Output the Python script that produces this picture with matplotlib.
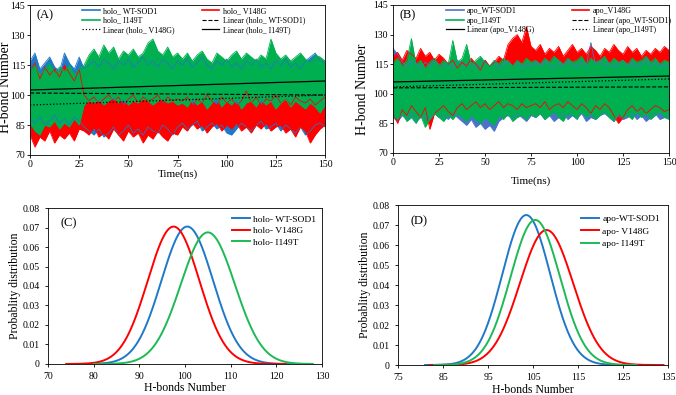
import numpy as np
import matplotlib.pyplot as plt
from matplotlib.legend import Legend

plt.rcParams['font.family'] = ['Liberation Serif', 'DejaVu Serif']

# time axis for the read-off envelopes (ns)
time = np.arange(0, 150.01, 2.5)

# panel A: holo, upper / lower envelope of each trace (H-bond number)
holo_wt_hi = [117, 121, 113, 116, 119, 114, 112, 121, 116, 113, 119,
              113, 115, 117, 114, 118, 116, 113, 117, 115, 118, 114, 116, 119, 115, 117, 114, 118, 116, 113, 117,
              115, 118, 114, 116, 119, 115, 113, 117, 115, 118, 114, 116, 113, 117, 115, 118, 114, 116, 113, 117,
              115, 118, 114, 116, 113, 117, 119, 121, 117, 116]
holo_wt_lo = [88, 86, 89, 85, 87, 90, 86, 88, 85, 89, 87,
              84, 82, 80, 83, 79, 81, 84, 80, 82, 85, 81, 83, 80, 84, 82, 81, 85, 83, 80, 84,
              86, 83, 85, 87, 82, 84, 86, 83, 85, 81, 80, 83, 86, 84, 82, 85, 87, 83, 84, 86,
              82, 85, 83, 81, 84, 80, 82, 85, 86, 84]
holo_v148g_hi = [112, 116, 108, 114, 110, 113, 109, 115, 111, 107, 113,
                 100, 97, 99, 96, 98, 100, 97, 99, 95, 98, 100, 96, 99, 97, 98, 100, 96, 99, 97, 98,
                 97, 99, 95, 98, 96, 100, 97, 95, 99, 96, 98, 95, 97, 102, 96, 99, 95, 98, 97, 100,
                 96, 98, 95, 99, 97, 96, 98, 95, 97, 99]
holo_v148g_lo = [80, 74, 79, 77, 82, 76, 80, 78, 81, 77, 83,
                 82, 80, 84, 79, 81, 78, 83, 80, 77, 82, 79, 81, 76, 80, 78, 82, 79, 77, 81, 80,
                 84, 82, 86, 83, 85, 81, 84, 86, 82, 85, 83, 86, 82, 84, 81, 85, 83, 86, 82, 84,
                 85, 81, 83, 79, 84, 82, 76, 80, 83, 85]
holo_i149t_hi = [112, 115, 110, 113, 116, 111, 114, 112, 115, 110, 113,
                 115, 120, 123, 119, 125, 121, 124, 118, 122, 120, 123, 119, 121, 126, 128, 122, 120, 124, 119, 121,
                 118, 121, 117, 120, 122, 118, 116, 121, 119, 117, 120, 122, 118, 121, 119, 117, 120, 118, 128, 121,
                 118, 120, 117, 119, 121, 118, 116, 120, 119, 117]
holo_i149t_lo = [86, 82, 80, 85, 84, 87, 83, 86, 84, 88, 85,
                 95, 97, 96, 98, 95, 97, 99, 96, 98, 95, 97, 96, 98, 97, 95, 97, 98, 96, 97, 95,
                 96, 94, 98, 95, 97, 93, 96, 99, 94, 97, 95, 98, 93, 96, 97, 94, 98, 95, 97, 93,
                 96, 98, 94, 97, 95, 93, 96, 94, 91, 95]

# panel B: apo
apo_wt_hi = [123, 120, 116, 114, 117, 115, 113, 116, 114, 117, 115,
             114, 116, 113, 117, 115, 114, 116, 113, 115, 117, 114, 116, 113, 115, 117, 114, 116, 113, 115, 114,
             116, 114, 117, 115, 113, 116, 114, 117, 115, 113, 116, 114, 126, 115, 117, 114, 116, 113, 115, 117,
             114, 116, 113, 115, 117, 114, 116, 113, 115, 114]
apo_wt_lo = [88, 86, 89, 87, 90, 86, 88, 89, 87, 90, 88,
             89, 87, 90, 88, 86, 84, 87, 83, 85, 82, 84, 81, 86, 88, 89, 87, 90, 88, 86, 89,
             88, 90, 87, 89, 86, 88, 90, 87, 89, 88, 90, 86, 88, 87, 89, 90, 88, 86, 89, 87,
             88, 90, 87, 89, 86, 88, 90, 87, 88, 89]
apo_v148g_hi = [119, 121, 117, 122, 120, 118, 123, 119, 121, 117, 120,
                118, 115, 117, 113, 116, 114, 118, 115, 112, 117, 114, 116, 119, 117, 125, 128, 130, 126, 134, 124,
                122, 125, 120, 123, 121, 124, 119, 122, 125, 121, 123, 120, 124, 122, 119, 123, 121, 125, 122, 120,
                124, 121, 123, 119, 122, 120, 123, 121, 124, 122]
apo_v148g_lo = [90, 85, 92, 89, 94, 91, 88, 93, 82, 90, 92,
                94, 91, 89, 93, 95, 92, 94, 96, 93, 95, 92, 94, 96, 93, 95, 94, 92, 95, 93, 94,
                95, 93, 96, 92, 94, 95, 93, 96, 94, 92, 95, 93, 90, 94, 92, 95, 93, 89, 85, 88,
                92, 94, 91, 93, 90, 92, 94, 93, 91, 92]
apo_i149t_hi = [116, 118, 114, 117, 128, 115, 117, 113, 116, 118, 114,
                117, 115, 127, 116, 118, 125, 115, 117, 119, 116, 114, 117, 115, 118, 116, 114, 117, 115, 118, 116,
                117, 115, 118, 116, 119, 117, 115, 118, 116, 117, 119, 115, 118, 116, 117, 119, 115, 118, 116, 117,
                115, 118, 116, 117, 119, 116, 118, 115, 117, 116]
apo_i149t_lo = [89, 87, 90, 86, 88, 85, 89, 83, 87, 90, 88,
                86, 89, 87, 90, 88, 86, 89, 87, 85, 88, 86, 84, 89, 87, 90, 86, 88, 89, 87, 90,
                88, 90, 87, 89, 91, 88, 86, 90, 89, 87, 91, 88, 90, 87, 89, 91, 88, 86, 90, 88,
                89, 87, 91, 88, 90, 87, 89, 91, 88, 87]

# linear trend lines: value at t=0 and t=150
trend_t = [0, 150]
holo_trend_wt = [101, 100]
holo_trend_v148g = [95, 100]
holo_trend_i149t = [102.5, 107]
apo_trend_wt = [103, 103.5]
apo_trend_v148g = [106, 109]
apo_trend_i149t = [103.5, 107.5]

# distributions: mean, sd, x-range
holo_dist = {'holo- WT-SOD1': (100.5, 5.66, 76, 125),
             'holo- V148G': (97.5, 5.66, 74, 122),
             'holo- I149T': (105.0, 5.91, 80, 128)}
apo_dist = {'apo-WT-SOD1': (103.5, 5.32, 81, 125),
            'apo- V148G': (108.0, 5.91, 82, 134),
            'apo- I149T': (105.5, 5.50, 83, 128)}

blue_holo = '#1f78c8'
blue_apo = '#4a74c9'
red = '#ff0000'
green = '#00b050'

fig = plt.figure(figsize=(6.76, 3.95), dpi=100)
axA = fig.add_axes([0.0444, 0.6076, 0.4364, 0.3797])
axB = fig.add_axes([0.5814, 0.6127, 0.4083, 0.3747])
axC = fig.add_axes([0.0710, 0.0785, 0.4053, 0.3949])
axD = fig.add_axes([0.5888, 0.0759, 0.3994, 0.4051])


def band(ax, hi, lo, color, label):
    ax.fill_between(time, lo, hi, color=color, lw=0)
    ax.plot(time, hi, color=color, lw=0.6)
    ax.plot(time, lo, color=color, lw=0.6)
    return ax.plot([], [], color=color, lw=1.2, label=label)[0]


def style_ts(ax, letter, ylab_x, ylab_y, xlab_y):
    ax.set_xlim(0, 150)
    ax.set_ylim(70, 145)
    ax.set_xticks(np.arange(0, 151, 25))
    ax.set_yticks(np.arange(70, 146, 15))
    ax.tick_params(labelsize=7, length=2, width=0.6, pad=1.5)
    ax.set_xlabel('Time(ns)', fontsize=8)
    ax.set_ylabel('H-bond Number', fontsize=10)
    ax.yaxis.set_label_coords(ylab_x, ylab_y)
    ax.xaxis.set_label_coords(0.5, xlab_y)
    for s in ax.spines.values():
        s.set_linewidth(0.6)
    ax.text(0.022, 0.93, letter, transform=ax.transAxes, fontsize=9, va='center')


def two_col_legend(ax, col1, col2, x1, x2):
    for handles, x in ((col1, x1), (col2, x2)):
        leg = Legend(ax, handles, [h.get_label() for h in handles], loc='upper left',
                     bbox_to_anchor=(x, 1.0), frameon=False, fontsize=5.8,
                     labelspacing=0.2, handlelength=2.2, handletextpad=0.4,
                     borderpad=0.25, borderaxespad=0)
        ax.add_artist(leg)


# panel A
h1 = band(axA, holo_wt_hi, holo_wt_lo, blue_holo, 'holo_ WT-SOD1')
h2 = band(axA, holo_v148g_hi, holo_v148g_lo, red, 'holo_ V148G')
h3 = band(axA, holo_i149t_hi, holo_i149t_lo, green, 'holo_ I149T')
l1, = axA.plot(trend_t, holo_trend_wt, 'k--', lw=0.8, label='Linear (holo_ WT-SOD1)')
l2, = axA.plot(trend_t, holo_trend_v148g, 'k:', lw=0.9, label='Linear (holo_ V148G)')
l3, = axA.plot(trend_t, holo_trend_i149t, 'k-', lw=0.9, label='Linear (holo_ I149T)')
style_ts(axA, '(A)', -0.062, 0.45, -0.093)
two_col_legend(axA, [h1, h3, l2], [h2, l1, l3], 0.17, 0.575)

# panel B
h1 = band(axB, apo_wt_hi, apo_wt_lo, blue_apo, 'apo_WT-SOD1')
h2 = band(axB, apo_v148g_hi, apo_v148g_lo, red, 'apo_V148G')
h3 = band(axB, apo_i149t_hi, apo_i149t_lo, green, 'apo_I149T')
l1, = axB.plot(trend_t, apo_trend_wt, 'k--', lw=0.8, label='Linear (apo_WT-SOD1)')
l2, = axB.plot(trend_t, apo_trend_v148g, 'k-', lw=0.9, label='Linear (apo_V148G)')
l3, = axB.plot(trend_t, apo_trend_i149t, 'k:', lw=0.9, label='Linear (apo_I149T)')
style_ts(axB, '(B)', -0.088, 0.43, -0.155)
two_col_legend(axB, [h1, h3, l2], [h2, l1, l3], 0.185, 0.64)


def dist_panel(ax, dist, colors, xlim, xticks, letter, ylab_x, xlab_y, leg_x, leg_y, lsp):
    for (name, (mu, sd, lo, hi)), c in zip(dist.items(), colors):
        x = np.linspace(lo, hi, 400)
        y = np.exp(-0.5 * ((x - mu) / sd) ** 2) / (sd * np.sqrt(2 * np.pi))
        ax.plot(x, y, color=c, lw=1.4, label=name)
    ax.set_xlim(*xlim)
    ax.set_ylim(0, 0.08)
    ax.set_xticks(xticks)
    ax.set_yticks(np.arange(0, 0.081, 0.01))
    ax.set_yticklabels(['0'] + ['%.2f' % v for v in np.arange(0.01, 0.081, 0.01)])
    ax.tick_params(labelsize=7, length=2, width=0.6, pad=4)
    ax.set_xlabel('H-bonds Number', fontsize=8.5)
    ax.set_ylabel('Probablity distribution', fontsize=8.5)
    ax.yaxis.set_label_coords(ylab_x, 0.5)
    ax.xaxis.set_label_coords(0.5, xlab_y)
    for s in ax.spines.values():
        s.set_linewidth(0.6)
    ax.text(0.045, 0.9, letter, transform=ax.transAxes, fontsize=9, va='center')
    ax.legend(loc='upper left', bbox_to_anchor=(leg_x, leg_y), frameon=False, fontsize=6.8,
              labelspacing=lsp, handlelength=1.9, handletextpad=0.35, borderpad=0,
              borderaxespad=0)


dist_panel(axC, holo_dist, ['#1f78c8', red, '#1db954'], (70, 130), np.arange(70, 131, 10),
           '(C)', -0.1, -0.115, 0.672, 0.955, 0.3)
dist_panel(axD, apo_dist, ['#1f78c8', red, '#1db954'], (75, 135), np.arange(75, 136, 10),
           '(D)', -0.101, -0.119, 0.678, 0.94, 0.4)

fig.savefig('out.png', dpi=100)
